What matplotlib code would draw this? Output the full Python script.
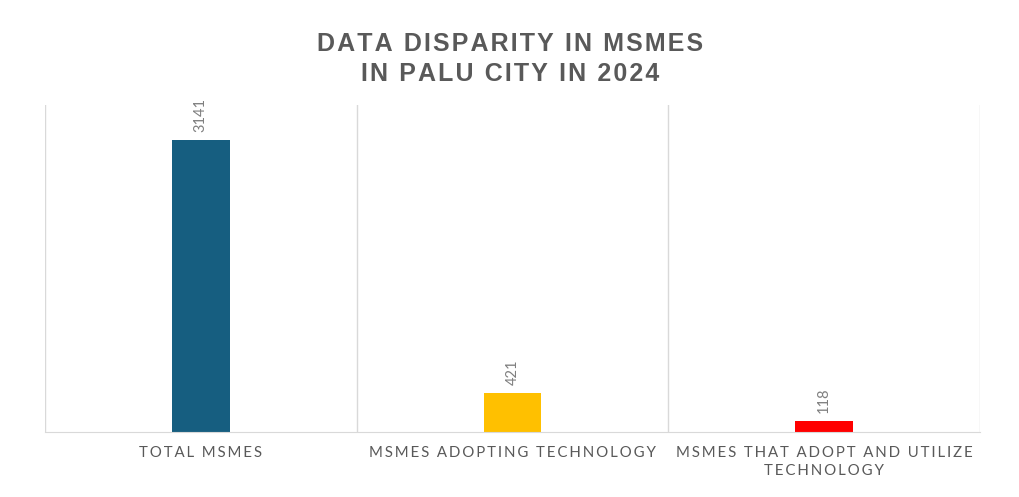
import numpy as np
from matplotlib import pyplot as plt

#------------------------------------------------------------#
## data
categories = ["TOTAL MSMES", "MSMES ADOPTING TECHNOLOGY",
              "MSMES THAT ADOPT AND UTILIZE\nTECHNOLOGY"]
values = [3141, 421, 118]
colors = ["#165e80", "#ffc000", "#ff0000"]
title = "DATA DISPARITY IN MSMES\nIN PALU CITY IN 2024"


def spaced(s, sp="\u200a"):
    # fake letter spacing
    return "\n".join(sp.join(line) for line in s.split("\n"))


#------------------------------------------------------------#
## plot
fig = plt.figure(figsize=(10.2, 4.97), dpi=100)
ax = fig.add_axes([0.0441, 0.1308, 0.9167, 0.6579])

x = np.arange(len(values))
bars = ax.bar(x, values, width=0.185, color=colors, zorder=3)

for b, v in zip(bars, values):
    ax.annotate(str(v), (b.get_x() + b.get_width() / 2, v),
                xytext=(0, 6), textcoords="offset points",
                rotation=90, ha="center", va="bottom",
                fontsize=10.5, color="#7f7f7f", family="Lato")

ax.set_xlim(-0.5, len(values) - 0.5)
ax.set_ylim(0, 3517)
ax.set_yticks([])

# vertical grid lines at category edges
ax.set_xticks(np.arange(len(values) + 1) - 0.5, minor=True)
ax.grid(True, which="minor", axis="x", color="#d9d9d9", lw=1, zorder=0)
ax.set_xticks(x)
ax.set_xticklabels([spaced(c, "\u2009") for c in categories], fontsize=10.8,
                   color="#595959", linespacing=1.35, family="Lato")
ax.tick_params(axis="x", which="both", length=0, pad=10)

for s in ["top", "left", "right"]:
    ax.spines[s].set_visible(False)
ax.spines["bottom"].set_color("#d9d9d9")
ax.spines["bottom"].set_zorder(4)

fig.text(0.5, 0.936, spaced(title), ha="center", va="top",
         fontsize=18, fontweight="bold", color="#595959",
         linespacing=1.3, family="Liberation Sans")

fig.savefig("out.png", dpi=100)
